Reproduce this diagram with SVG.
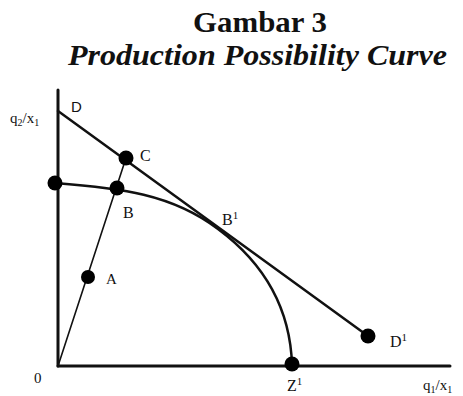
<svg xmlns="http://www.w3.org/2000/svg" width="463" height="396" viewBox="0 0 463 396">
<style>
.t{font-family:"Liberation Serif","Times New Roman",serif;fill:#111}
.s{font-family:"Liberation Sans",Arial,sans-serif;fill:#111}
.ln{fill:none;stroke:#111;stroke-linecap:round}
.dot{fill:#000}
</style>
<rect width="463" height="396" fill="#fff"/>
<g id="title">
<text class="t" x="260" y="32" font-size="29" font-weight="bold" text-anchor="middle" textLength="134" lengthAdjust="spacingAndGlyphs">Gambar 3</text>
<text class="t" x="68" y="65" font-size="29" font-weight="bold" font-style="italic" textLength="379" lengthAdjust="spacingAndGlyphs">Production Possibility Curve</text>
</g>
<g id="connectors">
<line class="ln" x1="58" y1="90" x2="58" y2="366" stroke-width="3"/>
<line class="ln" x1="58" y1="366" x2="450" y2="366" stroke-width="3"/>
<line class="ln" x1="58" y1="111" x2="368" y2="336" stroke-width="2.5"/>
<line class="ln" x1="58" y1="366" x2="126" y2="158" stroke-width="1.6"/>
<path class="ln" d="M55,183 C120,188 172,194 218,229 C257,258 290,300 292,365" stroke-width="2.5"/>
</g>
<g id="axis-y"><text class="t" x="10" y="123" font-size="15">q<tspan font-size="10" dy="3">2</tspan><tspan dy="-3">/x</tspan><tspan font-size="10" dy="3">1</tspan></text></g>
<g id="axis-x"><text class="t" x="423" y="390" font-size="15">q<tspan font-size="10" dy="3">1</tspan><tspan dy="-3">/x</tspan><tspan font-size="10" dy="3">1</tspan></text></g>
<g id="origin"><text class="t" x="34" y="383" font-size="15">0</text></g>
<g id="D"><text class="s" x="71" y="112" font-size="15">D</text></g>
<g id="C"><circle class="dot" cx="126" cy="158" r="7.5"/><text class="t" x="140" y="161" font-size="16">C</text></g>
<g id="Y0"><circle class="dot" cx="55" cy="183" r="7.5"/></g>
<g id="B"><circle class="dot" cx="117" cy="188" r="7.5"/><text class="t" x="123" y="218" font-size="16">B</text></g>
<g id="A"><circle class="dot" cx="88" cy="277" r="7"/><text class="t" x="106" y="284" font-size="15">A</text></g>
<g id="B1"><text class="t" x="222" y="225" font-size="16">B<tspan font-size="11" dy="-6">1</tspan></text></g>
<g id="D1"><circle class="dot" cx="368" cy="336" r="7.5"/><text class="t" x="390" y="347" font-size="16">D<tspan font-size="11" dy="-6">1</tspan></text></g>
<g id="Z1"><circle class="dot" cx="292" cy="364" r="7.5"/><text class="t" x="287" y="391" font-size="16">Z<tspan font-size="11" dy="-6">1</tspan></text></g>
</svg>
